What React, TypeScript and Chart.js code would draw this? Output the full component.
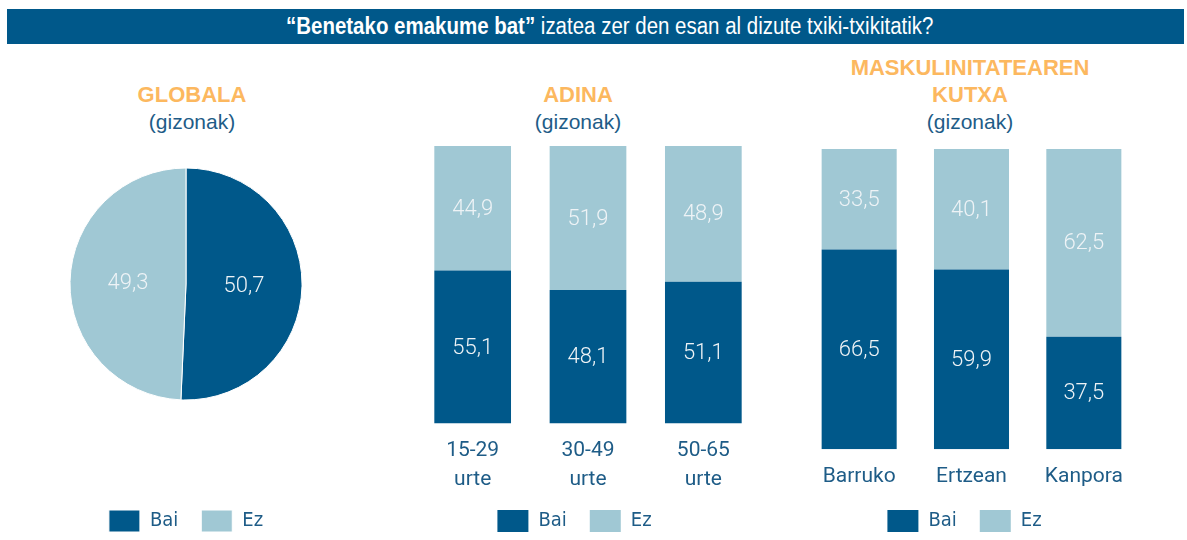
import React, { useEffect, useRef } from "react";
import { Chart, registerables } from "chart.js";

Chart.register(...registerables);

// ---------- data ----------
const seriesNames = ["Bai", "Ez"];
const globalValues = [50.7, 49.3];
const ageCategories = [["15-29", "urte"], ["30-49", "urte"], ["50-65", "urte"]];
const ageBai = [55.1, 48.1, 51.1];
const ageEz = [44.9, 51.9, 48.9];
const boxCategories = ["Barruko", "Ertzean", "Kanpora"];
const boxBai = [66.5, 59.9, 37.5];
const boxEz = [33.5, 40.1, 62.5];

const mainTitleBold = "“Benetako emakume bat”";
const mainTitleRest = " izatea zer den esan al dizute txiki-txikitatik?";

// ---------- styles ----------
const DARK = "#00588a";
const LIGHT = "#a0c8d4";
const ORANGE = "#fcb85f";
const TEXT = "#1e5c87";
const VALUE_COLOR = "#eef3f6";
const CONDENSED = "'DejaVu Sans Condensed', sans-serif";
const SANS = "'Liberation Sans', Arial, sans-serif";
const ROBOTO = "Roboto, 'Liberation Sans', sans-serif";

const fmt = (v: number) => v.toFixed(1).replace(".", ",");

const valueLabels = {
  id: "valueLabels",
  afterDatasetsDraw(chart: any) {
    const ctx = chart.ctx;
    ctx.save();
    ctx.fillStyle = VALUE_COLOR;
    ctx.font = `300 22px ${ROBOTO}`;
    ctx.textAlign = "center";
    ctx.textBaseline = "middle";
    chart.data.datasets.forEach((ds: any, di: number) => {
      const meta = chart.getDatasetMeta(di);
      meta.data.forEach((el: any, i: number) => {
        const v = ds.data[i];
        let x: number, y: number;
        if (chart.config.type === "pie") {
          const p = el.tooltipPosition();
          x = p.x;
          y = p.y;
        } else {
          x = el.x;
          y = (el.y + el.base) / 2;
        }
        ctx.fillText(fmt(v), x, y + 1);
      });
    });
    ctx.restore();
  },
};

const legendOpts = {
  display: true,
  position: "bottom" as const,
  labels: {
    boxWidth: 31,
    boxHeight: 22,
    padding: 23,
    color: TEXT,
    font: { family: CONDENSED, size: 20 },
  },
};

function PieChart() {
  const ref = useRef<HTMLCanvasElement>(null);
  useEffect(() => {
    const chart = new Chart(ref.current!, {
      type: "pie",
      data: {
        labels: seriesNames,
        datasets: [
          {
            data: globalValues,
            backgroundColor: [DARK, LIGHT],
            borderColor: "#ffffff",
            borderWidth: 1,
          },
        ],
      },
      options: {
        responsive: false,
        animation: false,
        radius: 116,
        layout: { padding: 0 },
        plugins: { legend: legendOpts, tooltip: { enabled: false }, title: { display: false } },
      } as any,
      plugins: [valueLabels],
    });
    return () => chart.destroy();
  }, []);
  return <canvas ref={ref} width={360} height={461} style={{ position: "absolute", left: 6, top: 81, width: 360, height: 461 }} />;
}

function BarChart(props: {
  labels: any[];
  bai: number[];
  ez: number[];
  left: number;
  top: number;
  width: number;
  height: number;
  yWidth: number;
  xHeight: number;
  barPct: number;
}) {
  const ref = useRef<HTMLCanvasElement>(null);
  useEffect(() => {
    const chart = new Chart(ref.current!, {
      type: "bar",
      data: {
        labels: props.labels,
        datasets: [
          { label: seriesNames[0], data: props.bai, backgroundColor: DARK, borderWidth: 0 },
          { label: seriesNames[1], data: props.ez, backgroundColor: LIGHT, borderWidth: 0 },
        ],
      },
      options: {
        responsive: false,
        animation: false,
        layout: { padding: 0 },
        datasets: { bar: { categoryPercentage: 1, barPercentage: props.barPct } },
        scales: {
          x: {
            stacked: true,
            grid: { display: false, drawTicks: false },
            border: { display: false },
            ticks: {
              padding: 13,
              color: TEXT,
              font: { family: ROBOTO, size: 21, lineHeight: 1.38 },
              maxRotation: 0,
              autoSkip: false,
            },
            afterFit: (s: any) => {
              s.height = props.xHeight;
            },
          },
          y: {
            stacked: true,
            min: 0,
            max: 100,
            grid: { display: false, drawTicks: false },
            border: { display: false },
            ticks: { display: false },
            afterFit: (s: any) => {
              s.width = props.yWidth;
            },
          },
        },
        plugins: { legend: legendOpts, tooltip: { enabled: false }, title: { display: false } },
      } as any,
      plugins: [valueLabels],
    });
    return () => chart.destroy();
  }, []);
  return (
    <canvas
      ref={ref}
      width={props.width}
      height={props.height}
      style={{ position: "absolute", left: props.left, top: props.top, width: props.width, height: props.height }}
    />
  );
}

function PanelTitle(props: { center: number; top: number; lh: number; lines: string[] }) {
  return (
    <div
      style={{
        position: "absolute",
        left: props.center - 200,
        top: props.top,
        width: 400,
        textAlign: "center",
        lineHeight: props.lh + "px",
      }}
    >
      {props.lines.map((l, i) => (
        <div key={i} style={{ color: ORANGE, fontFamily: SANS, fontWeight: 700, fontSize: 22 }}>
          {l}
        </div>
      ))}
      <div style={{ color: TEXT, fontFamily: SANS, fontWeight: 400, fontSize: 21 }}>(gizonak)</div>
    </div>
  );
}

export default function App() {
  return (
    <div style={{ position: "fixed", left: 0, top: 0, width: 1187, height: 540, overflow: "hidden", background: "#ffffff" }}>
      <div
        style={{
          position: "absolute",
          left: 7,
          top: 9,
          width: 1177,
          height: 35,
          background: DARK,
        }}
      />
      <div
        style={{
          position: "absolute",
          left: 609.7 - 500,
          top: 9,
          width: 1000,
          height: 35,
          lineHeight: "35px",
          textAlign: "center",
          whiteSpace: "nowrap",
        }}
      >
        <span
          style={{
            display: "inline-block",
            transform: "scaleX(0.89)",
            transformOrigin: "center",
            color: "#ffffff",
            fontFamily: SANS,
            fontSize: 23,
          }}
        >
          <b>{mainTitleBold}</b>
          {mainTitleRest}
        </span>
      </div>
      <PanelTitle center={192} top={82} lh={26.5} lines={["GLOBALA"]} />
      <PanelTitle center={578} top={81} lh={27} lines={["ADINA"]} />
      <PanelTitle center={970} top={55} lh={26.8} lines={["MASKULINITATEAREN", "KUTXA"]} />
      <PieChart />
      <BarChart labels={ageCategories} bai={ageBai} ez={ageEz} left={388} top={146} width={373} height={396} yWidth={27} xHeight={63.5} barPct={0.665} />
      <BarChart labels={boxCategories} bai={boxBai} ez={boxEz} left={789} top={149} width={351} height={393} yWidth={14} xHeight={37.7} barPct={0.668} />
    </div>
  );
}
